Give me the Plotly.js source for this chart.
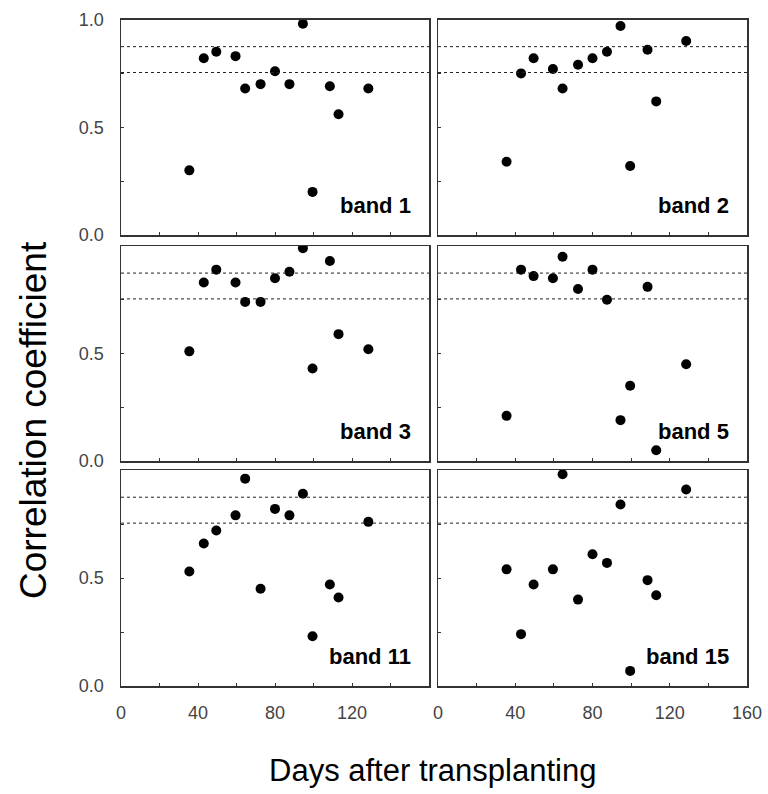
<!DOCTYPE html>
<html>
<head>
<meta charset="utf-8">
<script src="https://cdn.plot.ly/plotly-3.0.1.min.js"></script>
<style>html,body{margin:0;padding:0;background:#fff;}#chart{width:768px;height:794px;}</style>
</head>
<body>
<div id="chart"></div>
<script>
// Sampling days (days after transplanting), shared by all bands
const days = [35.5, 43, 49.5, 59.5, 64.5, 72.5, 80, 87.5, 94.5, 99.5, 108.5, 113, 128.5];

// Correlation coefficients per band
const band1  = [0.30, 0.82, 0.85, 0.83, 0.68, 0.70, 0.76, 0.70, 0.98, 0.20, 0.69, 0.56, 0.68];
const band2  = [0.34, 0.75, 0.82, 0.77, 0.68, 0.79, 0.82, 0.85, 0.97, 0.32, 0.86, 0.62, 0.90];
const band3  = [0.51, 0.83, 0.89, 0.83, 0.74, 0.74, 0.85, 0.88, 0.99, 0.43, 0.93, 0.59, 0.52];
const band5  = [0.21, 0.89, 0.86, 0.85, 0.95, 0.80, 0.89, 0.75, 0.19, 0.35, 0.81, 0.05, 0.45];
const band11 = [0.53, 0.66, 0.72, 0.79, 0.96, 0.45, 0.82, 0.79, 0.89, 0.23, 0.47, 0.41, 0.76];
const band15 = [0.54, 0.24, 0.47, 0.54, 0.98, 0.40, 0.61, 0.57, 0.84, 0.07, 0.49, 0.42, 0.91];

const panelNames = ["band 1", "band 2", "band 3", "band 5", "band 11", "band 15"];
const panelData = [band1, band2, band3, band5, band11, band15];

// Significance thresholds (dotted lines)
const thresholds = [0.874, 0.754];

// Tick values / labels
const xTickVals = [0, 20, 40, 60, 80, 100, 120, 140, 160];
const xTickTextLeft  = ["0", "", "40", "", "80", "", "120", "", ""];
const xTickTextRight = ["0", "", "40", "", "80", "", "120", "", "160"];
const yTickVals = [0, 0.25, 0.5, 0.75, 1.0];
const yTickTextTop   = ["0.0", "", "0.5", "", "1.0"];
const yTickTextOther = ["0.0", "", "0.5", "", ""];

const W = 768, H = 794;
const colX = [[121, 429], [438, 747]];
const rowY = [[19.5, 235], [246, 461], [470, 686]];

const FONT = "Liberation Sans, Arial, sans-serif";
const traces = [];
const layout = {
  width: W, height: H,
  margin: {l: 0, r: 0, t: 0, b: 0},
  paper_bgcolor: "#fff", plot_bgcolor: "#fff",
  showlegend: false,
  font: {family: FONT, color: "#000"},
  shapes: [], annotations: []
};

for (let i = 0; i < 6; i++) {
  const row = Math.floor(i / 2), col = i % 2;
  const n = i + 1;
  const xa = n === 1 ? "x" : "x" + n;
  const ya = n === 1 ? "y" : "y" + n;
  traces.push({
    type: "scatter", mode: "markers",
    x: days, y: panelData[i],
    xaxis: xa, yaxis: ya,
    marker: {color: "#000", size: 10, symbol: "circle"},
    hoverinfo: "x+y"
  });
  const bottomRow = row === 2;
  layout["xaxis" + (n === 1 ? "" : n)] = {
    domain: [colX[col][0] / W, colX[col][1] / W],
    anchor: ya,
    range: [0, 160],
    tickmode: "array",
    tickvals: xTickVals,
    ticktext: col === 0 ? xTickTextLeft : xTickTextRight,
    showticklabels: bottomRow,
    ticks: "inside", ticklen: 3, tickwidth: 1, tickcolor: "#333",
    ticklabelstandoff: 10,
    showline: true, mirror: true, linecolor: "#333", linewidth: 1.5,
    showgrid: false, zeroline: false,
    tickfont: {family: FONT, size: 18, color: "#444"}
  };
  layout["yaxis" + (n === 1 ? "" : n)] = {
    domain: [1 - rowY[row][1] / H, 1 - rowY[row][0] / H],
    anchor: xa,
    range: [0, 1],
    tickmode: "array",
    tickvals: yTickVals,
    ticktext: row === 0 ? yTickTextTop : yTickTextOther,
    showticklabels: col === 0,
    ticks: "inside", ticklen: 3, tickwidth: 1, tickcolor: "#333",
    ticklabelstandoff: 12,
    showline: true, mirror: true, linecolor: "#333", linewidth: 1.5,
    showgrid: false, zeroline: false,
    tickfont: {family: FONT, size: 18, color: "#444"}
  };
  thresholds.forEach(t => {
    layout.shapes.push({
      type: "line", xref: xa + " domain", yref: ya,
      x0: 0, x1: 1, y0: t, y1: t,
      line: {color: "#222", width: 1, dash: "dot"}
    });
  });
  layout.annotations.push({
    xref: xa, yref: ya, x: 151.5, y: 0.135,
    xanchor: "right", yanchor: "middle",
    text: "<b>" + panelNames[i] + "</b>",
    showarrow: false,
    font: {family: FONT, size: 22, color: "#000"}
  });
}

layout.annotations.push({
  xref: "paper", yref: "paper", x: 432 / W, y: 1 - 770 / H,
  xanchor: "center", yanchor: "middle",
  text: "Days after transplanting", showarrow: false,
  font: {family: FONT, size: 31, color: "#000"}
});
layout.annotations.push({
  xref: "paper", yref: "paper", x: 33 / W, y: 1 - 420 / H,
  xanchor: "center", yanchor: "middle", textangle: -90,
  text: "Correlation coefficient", showarrow: false,
  font: {family: FONT, size: 37, color: "#000"}
});

Plotly.newPlot("chart", traces, layout, {displayModeBar: false, staticPlot: true});
</script>
</body>
</html>
